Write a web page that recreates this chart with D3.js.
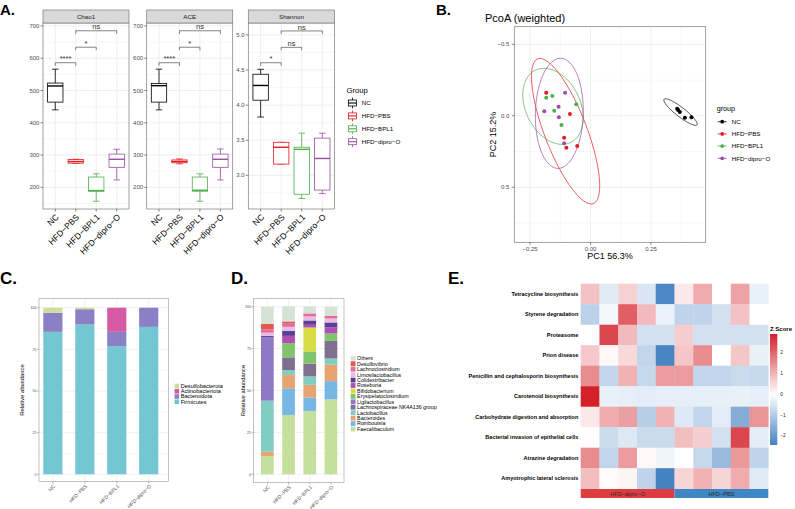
<!DOCTYPE html>
<html>
<head>
<meta charset="utf-8">
<script src="https://cdn.jsdelivr.net/npm/d3@7/dist/d3.min.js"></script>
<style>
html,body{margin:0;padding:0;background:#fff;}
svg{display:block;}
text{font-family:"Liberation Sans",Arial,Helvetica,sans-serif;}
</style>
</head>
<body>
<svg id="fig" width="795" height="509" viewBox="0 0 795 509"></svg>
<script>
// ================= DATA =================
const groups = ["NC", "HFD−PBS", "HFD−BPL1", "HFD−dipro−O"];
const groupColors = ["#000000", "#E41A1C", "#4DAF4A", "#984EA3"];

// Panel A: box statistics per group [lower whisker, Q1, median, Q3, upper whisker]
const chao1Stats = [[440,464,514,523,566],[274,275,280,286,287],[157,188,190,232,242],[223,262,287,303,318]];
const aceStats = [[440,464,515,522,566],[273,276,280,285,288],[157,188,191,232,242],[223,262,287,303,319]];
const shannonStats = [[3.83,4.07,4.28,4.44,4.51],[3.16,3.16,3.40,3.47,3.47],[2.67,2.73,3.37,3.40,3.60],[2.74,2.79,3.24,3.53,3.60]];
const chao1Ticks = [200,300,400,500,600,700];
const aceTicks = [200,300,400,500,600,700];
const shannonTicks = [3.0,3.5,4.0,4.5,5.0];
const chao1Range = [133,709];
const aceRange = [133,709];
const shannonRange = [2.52,5.17];
// comparisons: [group a, group b, bracket height, label]
const chao1Sig = [[0,1,586,"****"],[1,2,634,"*"],[1,3,685,"ns"]];
const aceSig = [[0,1,586,"****"],[1,2,634,"*"],[1,3,685,"ns"]];
const shannonSig = [[0,1,4.604,"*"],[1,2,4.823,"ns"],[1,3,5.057,"ns"]];

// Panel B: PCoA samples
const pcoaGroup = [0,0,0,0,0, 1,1,1,1,1, 2,2,2,2,2, 3,3,3,3,3];
const pc1 = [0.358,0.362,0.369,0.390,0.417, -0.183,-0.085,-0.109,-0.100,-0.055, -0.183,-0.158,-0.150,-0.120,-0.059, -0.105,-0.132,-0.191,-0.131,-0.109];
const pc2 = [-0.049,-0.040,-0.026,0.014,0.011, -0.161,-0.012,0.154,0.224,0.212, -0.126,-0.138,-0.035,0.065,-0.080, -0.161,-0.063,-0.031,0.011,0.193];
// confidence ellipses per group: centre, half extents, correlation
const ellipseCx = [0.372,-0.103,-0.155,-0.129];
const ellipseCy = [-0.026,0.108,-0.066,-0.017];
const ellipseHx = [0.069,0.141,0.125,0.099];
const ellipseHy = [0.093,0.509,0.266,0.385];
const ellipseRho = [0.90,0.75,0.30,-0.05];
const pc1Range = [-0.315,0.476];
const pc2Range = [-0.623,0.885];
const pc1Ticks = [-0.25,0,0.25];
const pc2Ticks = [-0.5,0,0.5];

// Panel C: phylum relative abundance (%) per group
const phyla = ["Firmicutes","Bacteroidota","Actinobacteriota","Desulfobacterota"];
const firmicutes = [85.5,89.9,76.9,88.5];
const bacteroidota = [11.4,9.2,8.6,11.5];
const actinobacteriota = [0,0,14.5,0];
const desulfobacterota = [3.1,0.9,0,0];
const phylaColors = ["#72C7D2","#8B80C6","#D65AA3","#CCDE9C"];

// Panel D: genus relative abundance (%) per group (bottom to top)
const genera = ["Faecalibaculum","Romboutsia","Bacteroides","Lactobacillus","Lachnospiraceae NK4A136 group","Ligilactobacillus","Erysipelatoclostridium","Bifidobacterium","Roseburia","Colidextribacter","Limosilactobacillus","Lachnoclostridium","Desulfovibrio","Others"];
const faecalibaculum = [10.9,35.4,37.8,44.7];
const romboutsia = [0,15.9,8.0,10.9];
const bacteroides = [2.6,7.9,7.6,9.9];
const lactobacillus = [30.4,3.0,5.0,3.6];
const lachnospiraceaeNK = [0,7.6,7.6,10.5];
const ligilactobacillus = [37.8,0,0,0];
const erysipelatoclostridium = [0,8.4,7.3,4.4];
const bifidobacterium = [0,0,14.3,0];
const roseburia = [0,4.4,1.6,3.6];
const colidextribacter = [0.8,3.0,2.6,3.0];
const limosilactobacillus = [2.0,2.4,2.4,2.4];
const lachnoclostridium = [2.0,2.2,1.8,1.6];
const desulfovibrio = [3.3,1.0,0,0];
const others = [10.2,9.0,4.2,5.4];
const generaColors = ["#C5DF9C","#78B6E6","#E6A470","#82CDC2","#7F7090","#8F78C6","#80C56C","#D6DC44","#B04FB2","#5B3E9A","#E9BCE2","#E46B9D","#E0594B","#D4E3D6"];

// Panel E: heatmap z-scores
const pathways = ["Tetracycline biosynthesis","Styrene degradation","Proteasome","Prion disease","Penicillin and cephalosporin biosynthesis","Carotenoid biosynthesis","Carbohydrate digestion and absorption","Bacterial invasion of epithelial cells","Atrazine degradation","Amyotrophic lateral sclerosis"];
const sampleGroup = ["HFD−dipro−O","HFD−dipro−O","HFD−dipro−O","HFD−dipro−O","HFD−dipro−O","HFD−PBS","HFD−PBS","HFD−PBS","HFD−PBS","HFD−PBS"];
const zTetracycline = [0.8,-0.4,0.6,-0.5,-2.35,0.3,1.1,0.0,1.2,-0.3];
const zStyrene = [-0.9,-0.15,2.1,0.9,-0.25,-0.85,-0.85,-0.6,0.8,0.0];
const zProteasome = [0.0,2.4,0.9,-0.6,-0.6,0.65,-0.6,-0.6,-0.6,-0.6];
const zPrion = [0.7,0.1,0.5,-0.8,-2.4,0.75,1.5,0.0,0.75,-0.3];
const zPenicillin = [1.5,-0.8,1.0,-0.75,1.3,1.3,-0.8,-0.8,-0.7,-0.75];
const zCarotenoid = [2.9,-0.3,-0.33,-0.35,-0.33,-0.33,-0.33,-0.32,-0.3,-0.33];
const zCarbohydrate = [0.3,1.1,1.25,-0.95,1.0,-0.45,-0.8,-0.35,-1.6,1.4];
const zBacterial = [0.02,-0.7,-0.45,-0.7,-0.7,0.85,0.65,-0.6,2.4,-0.35];
const zAtrazine = [1.5,-0.8,1.3,0.1,-0.2,0.0,-0.75,-1.35,1.35,-0.85];
const zAmyotrophic = [0.85,0.05,0.15,-0.85,-2.44,0.55,1.0,0.55,1.1,-0.4];
const zTicks = [-2,-1,0,1,2];
const annoColors = {"HFD−dipro−O":"#DC3D40","HFD−PBS":"#3E87C4"};

// ================= DRAWING =================
const svg = d3.select("#fig");
const GRID = "#ebebeb", BORDER = "#7a7a7a", AXTXT = "#4d4d4d";

function line(g, x1, y1, x2, y2, stroke, w) {
  return g.append("line").attr("x1",x1).attr("y1",y1).attr("x2",x2).attr("y2",y2)
    .attr("stroke",stroke).attr("stroke-width",w);
}

// panel letters
[["A.",0,15,15],["B.",436,15,15],["C.",0,284,17],["D.",231,284,17],["E.",448,284,17]].forEach(([t,x,y,s])=>{
  svg.append("text").attr("x",x).attr("y",y).attr("font-size",s).attr("font-weight","bold").attr("fill","#000").text(t);
});

// ---------- Panel A ----------
const A = {top:23, bottom:209, stripTop:10};
const facets = [
  {name:"Chao1", stats:chao1Stats, range:chao1Range, ticks:chao1Ticks, sig:chao1Sig, x0:43, x1:129, fmt:d3.format("d")},
  {name:"ACE", stats:aceStats, range:aceRange, ticks:aceTicks, sig:aceSig, x0:146.7, x1:232.7, fmt:d3.format("d")},
  {name:"Shannon", stats:shannonStats, range:shannonRange, ticks:shannonTicks, sig:shannonSig, x0:248.3, x1:334.6, fmt:d3.format(".1f")}
];
facets.forEach(f=>{
  const g = svg.append("g");
  const x = d3.scalePoint().domain(groups).range([f.x0,f.x1]).padding(0.6);
  const y = d3.scaleLinear().domain(f.range).range([A.bottom,A.top]);
  const step = f.ticks[1]-f.ticks[0];
  const minor = [f.ticks[0]-step/2].concat(f.ticks.map(t=>t+step/2)).filter(v=>v>f.range[0]&&v<f.range[1]);
  minor.forEach(v=>line(g,f.x0,y(v),f.x1,y(v),GRID,0.4));
  f.ticks.forEach(v=>line(g,f.x0,y(v),f.x1,y(v),GRID,0.8));
  groups.forEach(gr=>line(g,x(gr),A.top,x(gr),A.bottom,GRID,0.8));
  const bw = x.step()*0.75, cap = x.step()*0.16;
  groups.forEach((gr,i)=>{
    const s = f.stats[i], cx = x(gr), col = groupColors[i];
    line(g,cx,y(s[3]),cx,y(s[4]),col,0.8);
    line(g,cx,y(s[1]),cx,y(s[0]),col,0.8);
    line(g,cx-cap,y(s[4]),cx+cap,y(s[4]),col,0.8);
    line(g,cx-cap,y(s[0]),cx+cap,y(s[0]),col,0.8);
    g.append("rect").attr("x",cx-bw/2).attr("y",y(s[3])).attr("width",bw).attr("height",Math.max(0.5,y(s[1])-y(s[3])))
      .attr("fill","#fff").attr("stroke",col).attr("stroke-width",0.8);
    line(g,cx-bw/2,y(s[2]),cx+bw/2,y(s[2]),col,1.4);
  });
  g.append("rect").attr("x",f.x0).attr("y",A.top).attr("width",f.x1-f.x0).attr("height",A.bottom-A.top)
    .attr("fill","none").attr("stroke",BORDER).attr("stroke-width",0.7);
  g.append("rect").attr("x",f.x0).attr("y",A.stripTop).attr("width",f.x1-f.x0).attr("height",A.top-A.stripTop)
    .attr("fill","#d9d9d9").attr("stroke",BORDER).attr("stroke-width",0.7);
  g.append("text").attr("x",(f.x0+f.x1)/2).attr("y",18.8).attr("text-anchor","middle").attr("font-size",6.2).attr("fill","#1a1a1a").text(f.name);
  f.ticks.forEach(v=>{
    line(g,f.x0-2.5,y(v),f.x0,y(v),"#333",0.6);
    g.append("text").attr("x",f.x0-3.6).attr("y",y(v)+2.1).attr("text-anchor","end").attr("font-size",6).attr("fill",AXTXT).text(f.fmt(v));
  });
  groups.forEach(gr=>{
    line(g,x(gr),A.bottom,x(gr),A.bottom+2.5,"#333",0.6);
    g.append("text").attr("transform",`translate(${x(gr)+2},${A.bottom+6.5}) rotate(-45)`)
      .attr("text-anchor","end").attr("dy","0.35em").attr("font-size",8.5).attr("fill","#000").text(gr);
  });
  f.sig.forEach(([a,b,h,lab])=>{
    const xa = x(groups[a]), xb = x(groups[b]), yy = y(h);
    g.append("path").attr("d",`M${xa},${yy+3}V${yy}H${xb}V${yy+3}`).attr("fill","none").attr("stroke","#333").attr("stroke-width",0.6);
    g.append("text").attr("x",(xa+xb)/2).attr("y",yy-1.3).attr("text-anchor","middle").attr("font-size",7.5).attr("fill","#333").text(lab);
  });
});
// legend A
{
  const g = svg.append("g").attr("transform","translate(346.5,86)");
  g.append("text").attr("x",0).attr("y",7).attr("font-size",7.7).attr("fill","#000").text("Group");
  groups.forEach((gr,i)=>{
    const cy = 17 + i*12.9, col = groupColors[i];
    line(g,6,cy-5.5,6,cy+5.5,col,0.8);
    g.append("rect").attr("x",2).attr("y",cy-3).attr("width",8).attr("height",6).attr("fill","#fff").attr("stroke",col).attr("stroke-width",0.8);
    line(g,2,cy,10,cy,col,1.1);
    g.append("text").attr("x",15.2).attr("y",cy+2.2).attr("font-size",6.2).attr("fill","#000").text(gr);
  });
}

// ---------- Panel B ----------
{
  const B = {x0:514.3, x1:705.7, y0:26.7, y1:242.3};
  const g = svg.append("g");
  const bx = d3.scaleLinear().domain(pc1Range).range([B.x0,B.x1]);
  const by = d3.scaleLinear().domain(pc2Range).range([B.y0,B.y1]);
  const xs = pc1Ticks[1]-pc1Ticks[0], ys = pc2Ticks[1]-pc2Ticks[0];
  [pc1Ticks[0]-xs/2].concat(pc1Ticks.map(t=>t+xs/2)).filter(v=>v>pc1Range[0]&&v<pc1Range[1])
    .forEach(v=>line(g,bx(v),B.y0,bx(v),B.y1,GRID,0.4));
  [pc2Ticks[0]-ys/2].concat(pc2Ticks.map(t=>t+ys/2)).filter(v=>v>pc2Range[0]&&v<pc2Range[1])
    .forEach(v=>line(g,B.x0,by(v),B.x1,by(v),GRID,0.4));
  pc1Ticks.forEach(v=>line(g,bx(v),B.y0,bx(v),B.y1,GRID,0.8));
  pc2Ticks.forEach(v=>line(g,B.x0,by(v),B.x1,by(v),GRID,0.8));
  const lg = d3.line().x(d=>bx(d[0])).y(d=>by(d[1]));
  groups.forEach((gr,i)=>{
    const r = ellipseRho[i], pts = d3.range(0,121).map(k=>{
      const t = 2*Math.PI*k/120;
      return [ellipseCx[i]+ellipseHx[i]*Math.cos(t), ellipseCy[i]+ellipseHy[i]*(r*Math.cos(t)+Math.sqrt(1-r*r)*Math.sin(t))];
    });
    g.append("path").attr("d",lg(pts)).attr("fill","none").attr("stroke",groupColors[i]).attr("stroke-width",0.7);
  });
  g.selectAll("circle.pt").data(pc1.map((v,i)=>i)).join("circle")
    .attr("cx",i=>bx(pc1[i])).attr("cy",i=>by(pc2[i])).attr("r",2).attr("fill",i=>groupColors[pcoaGroup[i]]);
  g.append("rect").attr("x",B.x0).attr("y",B.y0).attr("width",B.x1-B.x0).attr("height",B.y1-B.y0)
    .attr("fill","none").attr("stroke",BORDER).attr("stroke-width",0.7);
  const fx = d3.format(".2f"), fy = d3.format(".1f");
  pc1Ticks.forEach(v=>{
    line(g,bx(v),B.y1,bx(v),B.y1+2.5,"#333",0.6);
    g.append("text").attr("x",bx(v)).attr("y",B.y1+8.6).attr("text-anchor","middle").attr("font-size",6).attr("fill",AXTXT).text(fx(v));
  });
  pc2Ticks.forEach(v=>{
    line(g,B.x0-2.5,by(v),B.x0,by(v),"#333",0.6);
    g.append("text").attr("x",B.x0-5).attr("y",by(v)+2.1).attr("text-anchor","end").attr("font-size",6).attr("fill",AXTXT).text(fy(v));
  });
  g.append("text").attr("x",(B.x0+B.x1)/2).attr("y",259).attr("text-anchor","middle").attr("font-size",9).attr("fill","#000").text("PC1 56.3%");
  g.append("text").attr("transform",`translate(496,${(B.y0+B.y1)/2}) rotate(-90)`).attr("text-anchor","middle").attr("font-size",9).attr("fill","#000").text("PC2 15.2%");
  g.append("text").attr("x",485).attr("y",22).attr("font-size",11).attr("fill","#000").text("PcoA (weighted)");
  // legend
  g.append("text").attr("x",716.7).attr("y",110.8).attr("font-size",7.2).attr("fill","#000").text("group");
  groups.forEach((gr,i)=>{
    const cy = 121.7 + i*12.2;
    line(g,717.7,cy,726.7,cy,groupColors[i],0.8);
    g.append("circle").attr("cx",722.2).attr("cy",cy).attr("r",1.9).attr("fill",groupColors[i]);
    g.append("text").attr("x",731.7).attr("y",cy+2.2).attr("font-size",6.2).attr("fill","#000").text(gr);
  });
}

// ---------- stacked bar helper (Panels C, D) ----------
function stackedPanel(opt) {
  const g = svg.append("g");
  const P = opt.box;
  const x = d3.scaleBand().domain(groups).range(opt.barRange).paddingInner(0.4).paddingOuter(0);
  const y = d3.scaleLinear().domain([0,100]).range(opt.yRange);
  const ticks = [0,25,50,75,100];
  [12.5,37.5,62.5,87.5].forEach(v=>line(g,P.x0,y(v),P.x1,y(v),GRID,0.4));
  ticks.forEach(v=>line(g,P.x0,y(v),P.x1,y(v),GRID,0.7));
  groups.forEach(gr=>line(g,x(gr)+x.bandwidth()/2,P.y0,x(gr)+x.bandwidth()/2,P.y1,GRID,0.7));
  const table = groups.map((gr,i)=>{ const o = {group:gr}; opt.keys.forEach((k,j)=>o[k]=opt.values[j][i]); return o; });
  const series = d3.stack().keys(opt.keys)(table);
  series.forEach((s,j)=>{
    g.selectAll(null).data(s).join("rect")
      .attr("x",d=>x(d.data.group)).attr("width",x.bandwidth())
      .attr("y",d=>y(d[1])).attr("height",d=>Math.max(0,y(d[0])-y(d[1])))
      .attr("fill",opt.colors[j]);
  });
  g.append("rect").attr("x",P.x0).attr("y",P.y0).attr("width",P.x1-P.x0).attr("height",P.y1-P.y0)
    .attr("fill","none").attr("stroke","#9a9a9a").attr("stroke-width",0.6);
  ticks.forEach(v=>{
    line(g,P.x0-1.8,y(v),P.x0,y(v),"#555",0.4);
    g.append("text").attr("x",P.x0-2.4).attr("y",y(v)+1.3).attr("text-anchor","end").attr("font-size",3.6).attr("fill",AXTXT).text(v);
  });
  groups.forEach(gr=>{
    const cx = x(gr)+x.bandwidth()/2;
    line(g,cx,P.y1,cx,P.y1+1.8,"#555",0.4);
    g.append("text").attr("transform",`translate(${cx+1.5},${P.y1+3.6}) rotate(-45)`)
      .attr("text-anchor","end").attr("dy","0.35em").attr("font-size",5).attr("fill",AXTXT).text(gr);
  });
  g.append("text").attr("transform",`translate(${opt.ytitleX},${(P.y0+P.y1)/2}) rotate(-90)`)
    .attr("text-anchor","middle").attr("font-size",5.8).attr("fill","#000").text("Relative abundance");
  // legend (top = last stacked key)
  const L = opt.legend;
  opt.keys.slice().reverse().forEach((k,i)=>{
    const cy = L.y + i*L.dy, j = opt.keys.length-1-i;
    g.append("rect").attr("x",L.x).attr("y",cy-L.k/2).attr("width",L.k).attr("height",L.k).attr("fill",opt.colors[j]);
    g.append("text").attr("x",L.x+L.k+1.6).attr("y",cy+1.9).attr("font-size",L.fs).attr("fill","#000").text(k);
  });
}
stackedPanel({
  box:{x0:39,x1:168.3,y0:298.3,y1:481.7}, barRange:[43.3,158.3], yRange:[474.3,307.7],
  keys:phyla, values:[firmicutes,bacteroidota,actinobacteriota,desulfobacterota], colors:phylaColors,
  ytitleX:23.5, legend:{x:174.5,y:386,dy:5.25,k:4.6,fs:5.6}
});
stackedPanel({
  box:{x0:253.5,x1:344,y0:298.3,y1:482.7}, barRange:[261,337.3], yRange:[474.3,306.7],
  keys:genera, values:[faecalibaculum,romboutsia,bacteroides,lactobacillus,lachnospiraceaeNK,ligilactobacillus,erysipelatoclostridium,bifidobacterium,roseburia,colidextribacter,limosilactobacillus,lachnoclostridium,desulfovibrio,others],
  colors:generaColors, ytitleX:245.2, legend:{x:350.7,y:358.3,dy:5.44,k:4.8,fs:5.3}
});

// ---------- Panel E ----------
{
  const g = svg.append("g");
  const rows = [zTetracycline,zStyrene,zProteasome,zPrion,zPenicillin,zCarotenoid,zCarbohydrate,zBacterial,zAtrazine,zAmyotrophic];
  const ex = d3.scaleBand().domain(d3.range(sampleGroup.length)).range([580.7,768.3]);
  const ey = d3.scaleBand().domain(pathways).range([283.7,488.7]);
  const all = rows.flat();
  const zmin = d3.min(all), zmax = d3.max(all);
  const color = d3.scaleLinear().domain([zmin,0,zmax]).range(["#4682C2","#ffffff","#D42129"]).interpolate(d3.interpolateRgb);
  rows.forEach((r,i)=>{
    r.forEach((v,j)=>{
      g.append("rect").attr("x",ex(j)).attr("y",ey(pathways[i])).attr("width",ex.bandwidth()+0.3).attr("height",ey.bandwidth()+0.3)
        .attr("fill",color(v));
    });
    g.append("text").attr("x",578.3).attr("y",ey(pathways[i])+ey.bandwidth()/2+1.9).attr("text-anchor","end")
      .attr("font-size",5.5).attr("font-weight","bold").attr("fill","#000").text(pathways[i]);
  });
  // annotation bar
  const annY = 489, annH = 9;
  const annGroups = Array.from(new Set(sampleGroup));
  annGroups.forEach(ag=>{
    const idx = sampleGroup.map((s,i)=>s===ag?i:-1).filter(i=>i>=0);
    const xa = ex(idx[0]), xb = ex(idx[idx.length-1])+ex.bandwidth();
    g.append("rect").attr("x",xa).attr("y",annY).attr("width",xb-xa).attr("height",annH).attr("fill",annoColors[ag]);
    g.append("text").attr("x",(xa+xb)/2).attr("y",annY+annH/2+2).attr("text-anchor","middle").attr("font-size",5.6).attr("fill","#2a2a2a").text(ag);
  });
  // colour key
  const cy = d3.scaleLinear().domain([zmin,zmax]).range([445,334]);
  const defs = svg.append("defs");
  const grad = defs.append("linearGradient").attr("id","zgrad").attr("x1",0).attr("y1",1).attr("x2",0).attr("y2",0);
  d3.range(0,1.0001,0.05).forEach(t=>{
    const v = zmin + t*(zmax-zmin);
    grad.append("stop").attr("offset",t).attr("stop-color",color(v));
  });
  g.append("rect").attr("x",770).attr("y",cy(zmax)).attr("width",7.3).attr("height",cy(zmin)-cy(zmax)).attr("fill","url(#zgrad)");
  zTicks.forEach(v=>{
    g.append("text").attr("x",780.3).attr("y",cy(v)+1.6).attr("font-size",4.8).attr("fill","#222").text(d3.format("d")(v));
  });
  g.append("text").attr("x",770).attr("y",331).attr("font-size",6).attr("font-weight","bold").attr("fill","#000").text("Z Score");
}
</script>
</body>
</html>
